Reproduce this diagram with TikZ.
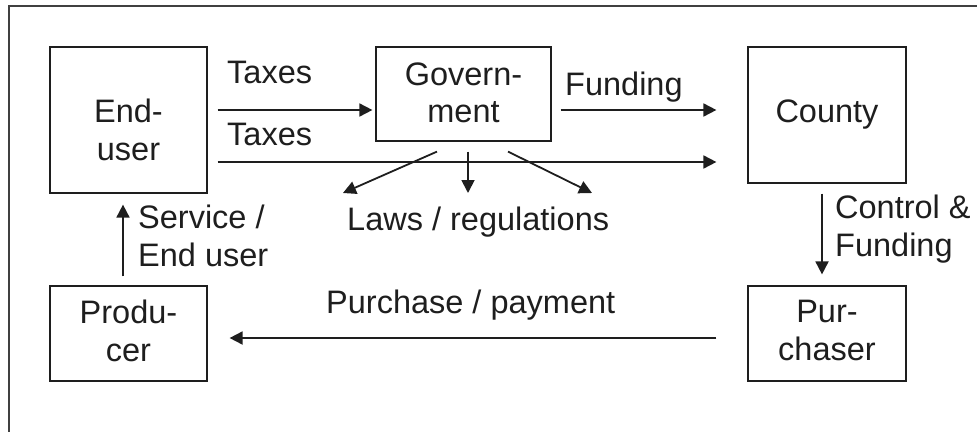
\documentclass[tikz,border=0pt]{standalone}
\usepackage{fontspec}
\setmainfont{Liberation Sans}
\usetikzlibrary{arrows.meta,calc}
\definecolor{ink}{HTML}{1E1E1E}
\definecolor{framegray}{HTML}{404040}
\begin{document}
\begin{tikzpicture}[x=1pt,y=-1pt,
  box/.style={draw=ink, line width=1.2pt, inner sep=0pt, rectangle},
  lbl/.style={text=ink, font=\fontsize{32.5}{38}\selectfont, inner sep=0pt, anchor=base west},
  ctr/.style={lbl, anchor=base},
  arr/.style={draw=ink, line width=1.8pt, -{Triangle[length=13pt,width=13pt]}}]
\useasboundingbox (0,0) rectangle (977,431);
\clip (0,0) rectangle (977,431);

% outer frame (runs past the page on the right and bottom)
\draw[framegray, line width=2pt] (8.5,445) -- (8.5,5.5) -- (995,5.5);

% boxes
\node[box, minimum width=157pt, minimum height=146pt] (eu) at (128.5,120) {};
\node[box, minimum width=175pt, minimum height=94pt] (gov) at (463.5,94) {};
\node[box, minimum width=158pt, minimum height=136pt] (cty) at (827,115) {};
\node[box, minimum width=158pt, minimum height=95pt] (pur) at (827,333.5) {};
\node[box, minimum width=157pt, minimum height=95pt] (prod) at (128.5,333.5) {};

% box texts
\node[ctr] (eu1) at (128.5,122) {End-};
\node[ctr] (eu2) at (128.5,160) {user};
\node[ctr] (gov1) at (463.5,85) {Govern-};
\node[ctr] (gov2) at (463.5,122) {ment};
\node[ctr] (cty1) at (827,122) {County};
\node[ctr] (pur1) at (827,322) {Pur-};
\node[ctr] (pur2) at (827,360) {chaser};
\node[ctr] (prod1) at (128.5,323) {Produ-};
\node[ctr] (prod2) at (128.5,361) {cer};

% flow labels
\node[lbl] (tx1) at (227,83) {Taxes};
\node[lbl] (tx2) at (227,145) {Taxes};
\node[lbl] (fund) at (565,95) {Funding};
\node[lbl] (laws) at (347,230) {Laws / regulations};
\node[lbl] (svc1) at (138,228) {Service /};
\node[lbl] (svc2) at (138,266) {End user};
\node[lbl] (ctl1) at (835,218) {Control \&};
\node[lbl] (ctl2) at (835,256) {Funding};
\node[lbl] (buy) at (326,313) {Purchase / payment};

% flows
\draw[arr, shorten <=10pt, shorten >=3pt] (eu.east |- 0,110) -- (gov.west |- 0,110);
\draw[arr, shorten <=10pt, shorten >=31pt] (eu.east |- 0,162) -- (cty.west |- 0,162);
\draw[arr, shorten <=9pt, shorten >=31pt] (gov.east |- 0,110) -- (cty.west |- 0,110);
\draw[arr, shorten <=10pt, shorten >=11pt] (cty.south -| 822,0) -- (pur.north -| 822,0);
\draw[arr, shorten <=9pt, shorten >=11pt] (prod.north -| 123,0) -- (eu.south -| 123,0);
\draw[arr, shorten <=31pt, shorten >=22pt] (pur.west |- 0,338) -- (prod.east |- 0,338);

% laws and regulations fan out of the government box
\coordinate (l1) at (343,193);
\coordinate (l2) at (468,193);
\coordinate (l3) at (592,193);
\draw[arr] ($(gov.south)+(-26.5,10)$) -- (l1);
\draw[arr] ($(gov.south)+(4.5,10)$) -- (l2);
\draw[arr] ($(gov.south)+(44.5,10)$) -- (l3);
\end{tikzpicture}
\end{document}
